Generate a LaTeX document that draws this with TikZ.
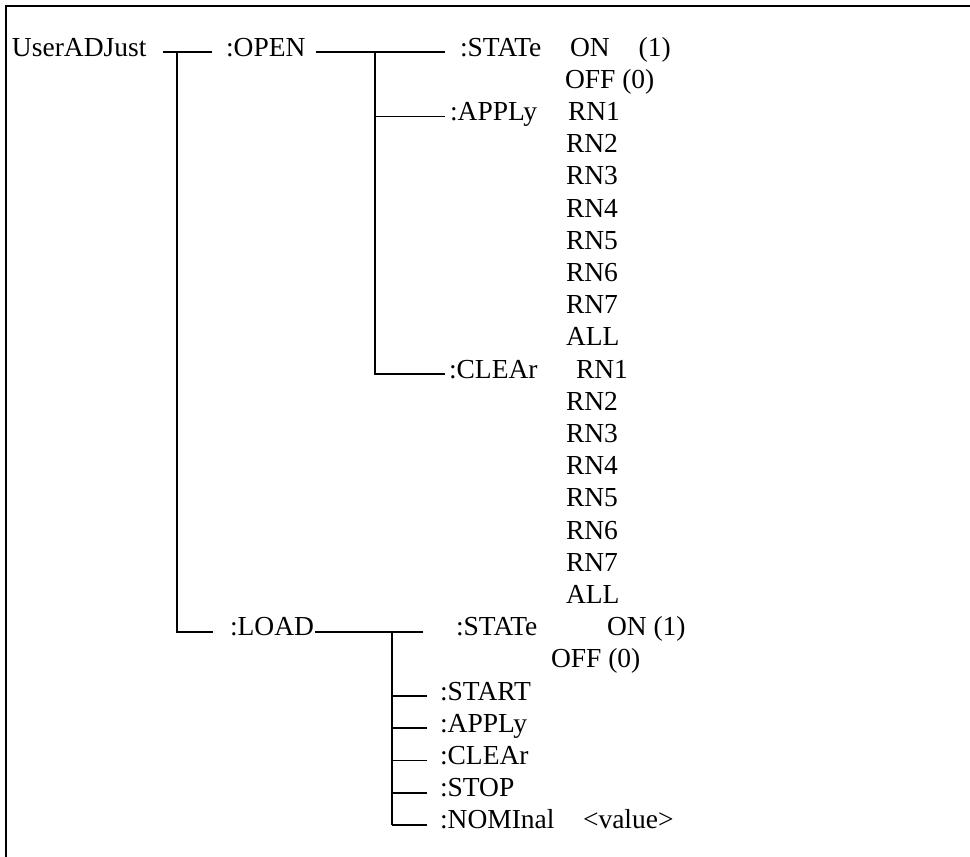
\documentclass[tikz,border=0pt]{standalone}
\usepackage{fontspec}
\setmainfont{Liberation Serif}
\begin{document}
\begin{tikzpicture}[x=1pt,y=-1pt,
  lbl/.style={anchor=base west,inner sep=0pt,outer sep=0pt,font=\fontsize{27.5}{30}\selectfont},
  conn/.style={line width=1.8pt},
  frame/.style={line width=2.6pt}]
\useasboundingbox (0,0) rectangle (970,857);
\def\rowy#1{56+32.2*#1}
\def\liney#1{52+32.2*#1}
% frame
\draw[frame] (6,857) -- (6,6) -- (970,6);
% upper tree text
\node[lbl] (root) at (12,{\rowy{0}}) {UserADJust};
\node[lbl] (open) at (226,{\rowy{0}}) {:OPEN};
\node[lbl] (ostate) at (460,{\rowy{0}}) {:STATe};
\node[lbl] (oon) at (570,{\rowy{0}}) {ON\hspace*{29pt}(1)};
\node[lbl] (ooff) at (565,{\rowy{1}}) {OFF (0)};
\node[lbl] (oapply) at (450,{\rowy{2}}) {:APPLy};
\foreach \t/\i/\xx in {RN1/2/568,RN2/3/566,RN3/4/566,RN4/5/566,RN5/6/566,RN6/7/566,RN7/8/566,ALL/9/566}
  \node[lbl] (a\i) at (\xx,{\rowy{\i}}) {\t};
\node[lbl] (oclear) at (449,{\rowy{10}}) {:CLEAr};
\foreach \t/\i/\xx in {RN1/10/576,RN2/11/566,RN3/12/566,RN4/13/566,RN5/14/566,RN6/15/566,RN7/16/566,ALL/17/566}
  \node[lbl] (c\i) at (\xx,{\rowy{\i}}) {\t};
% lower tree text
\node[lbl] (load) at (230,{\rowy{18}}) {:LOAD};
\node[lbl] (lstate) at (456,{\rowy{18}}) {:STATe};
\node[lbl] (lon) at (607,{\rowy{18}}) {ON (1)};
\node[lbl] (loff) at (551,{\rowy{19}}) {OFF (0)};
\node[lbl] (lstart) at (440,{\rowy{20}}) {:START};
\node[lbl] (lapply) at (440,{\rowy{21}}) {:APPLy};
\node[lbl] (lclear) at (440,{\rowy{22}}) {:CLEAr};
\node[lbl] (lstop) at (440,{\rowy{23}}) {:STOP};
\node[lbl] (lnom) at (440,{\rowy{24}}) {:NOMInal};
\node[lbl] (lval) at (583,{\rowy{24}}) {<value>};
% junction coordinates
\coordinate (r0) at (163,{\liney{0}});
\coordinate (r1) at (177,{\liney{0}});
\coordinate (r2) at (212,{\liney{0}});
\coordinate (r3) at (177,{\liney{18}});
\coordinate (r4) at (213,{\liney{18}});
\coordinate (o0) at (316,{\liney{0}});
\coordinate (o1) at (375,{\liney{0}});
\coordinate (o2) at (445,{\liney{0}});
\coordinate (o3) at (375,{\liney{2}});
\coordinate (o4) at (445,{\liney{2}});
\coordinate (o5) at (375,{\liney{10}});
\coordinate (o6) at (445,{\liney{10}});
\coordinate (l0) at (315,{\liney{18}});
\coordinate (l1) at (392,{\liney{18}});
\coordinate (l2) at (423,{\liney{18}});
\foreach \i in {20,...,24} {
  \coordinate (lb\i) at (392,{\liney{\i}});
  \coordinate (le\i) at (427,{\liney{\i}});
}
% connectors
\draw[conn] (r0) -- (r2);
\draw[conn] (r1) -- (r3) -- (r4);
\draw[conn] (o0) -- (o2);
\draw[conn] (o1) -- (o5) -- (o6);
\draw[conn] (o3) -- (o4);
\draw[conn] (l0) -- (l2);
\draw[conn] (l1) -- (lb24);
\foreach \i in {20,...,24} \draw[conn] (lb\i) -- (le\i);
\end{tikzpicture}
\end{document}
